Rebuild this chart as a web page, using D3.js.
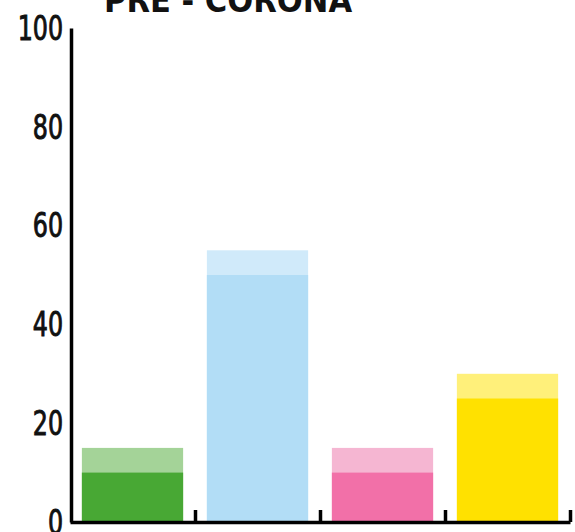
<!DOCTYPE html>
<html>
  <head>
    <script type="text/javascript" src="https://cdn.jsdelivr.net/npm/d3@7/dist/d3.min.js"></script>
    <style>
      body { margin: 0; background: #fff; }
      .tick text { font-family: "DejaVu Sans Condensed", "DejaVu Sans", sans-serif; }
    </style>
  </head>
  <body>
    <div id="chart"></div>
  </body>
  <script>
  // data
  var categories = ['Groen', 'Blauw', 'Roze', 'Geel'];
  var lowValues = [10, 50, 10, 25];   // solid part
  var highValues = [15, 55, 15, 30];  // top of the light part
  var yTicks = [0, 20, 40, 60, 80, 100];

  (function (d3) {
    'use strict';
    var width = 575, height = 532;
    var left = 70, right = 570, top = 28, bottom = 522;

    var darkColors = ['#48a834', '#b2ddf6', '#f270a8', '#ffe100'];
    var lightColors = ['#a4d398', '#d0eafa', '#f5b6d2', '#fff07a'];

    var svg = d3.select('#chart')
      .append('svg')
      .attr('width', width)
      .attr('height', height);

    var x = d3.scaleBand()
      .domain(categories)
      .range([left, right])
      .paddingInner(0.19)
      .paddingOuter(0.095);

    var y = d3.scaleLinear().domain([0, 100]).range([bottom, top]);

    // light (upper) bars first, solid bars on top
    svg.selectAll('.high')
      .data(categories)
      .enter()
      .append('rect')
      .attr('class', 'high')
      .attr('x', function (d) { return x(d); })
      .attr('width', x.bandwidth())
      .attr('y', function (d, i) { return y(highValues[i]); })
      .attr('height', function (d, i) { return y(0) - y(highValues[i]); })
      .attr('fill', function (d, i) { return lightColors[i]; });

    svg.selectAll('.low')
      .data(categories)
      .enter()
      .append('rect')
      .attr('class', 'low')
      .attr('x', function (d) { return x(d); })
      .attr('width', x.bandwidth())
      .attr('y', function (d, i) { return y(lowValues[i]); })
      .attr('height', function (d, i) { return y(0) - y(lowValues[i]); })
      .attr('fill', function (d, i) { return darkColors[i]; });

    // y axis, labels squeezed to look condensed
    var yAxis = svg.append('g')
      .attr('transform', 'translate(' + (left + 1) + ',0)')
      .call(d3.axisLeft(y).tickValues(yTicks).tickSize(0).tickPadding(10));
    yAxis.select('.domain').attr('stroke', '#000').attr('stroke-width', 3.5);
    yAxis.selectAll('text')
      .attr('font-size', 33)
      .attr('dy', '0.34em')
      .attr('fill', '#111')
      .attr('stroke', '#111')
      .attr('stroke-width', 0.9)
      .attr('transform', 'scale(0.8,1)');

    // x axis with up ticks at the category borders
    var xb = d3.scaleLinear().domain([0, categories.length]).range([left, right]);
    var xAxis = svg.append('g')
      .attr('transform', 'translate(0,' + bottom + ')')
      .call(d3.axisBottom(xb)
        .tickValues(d3.range(1, categories.length + 1))
        .tickSizeInner(-12)
        .tickSizeOuter(0)
        .tickFormat(''));
    xAxis.select('.domain').attr('stroke', '#000').attr('stroke-width', 3.5);
    xAxis.selectAll('.tick line').attr('stroke', '#000').attr('stroke-width', 3.5);

    // title
    svg.append('text')
      .attr('x', 104)
      .attr('y', 12)
      .attr('font-family', '"DejaVu Sans Condensed", "DejaVu Sans", sans-serif')
      .attr('font-weight', 'bold')
      .attr('font-size', 34)
      .attr('fill', '#111')
      .text('PRE - CORONA');
  })(window.d3);
  </script>
</html>
